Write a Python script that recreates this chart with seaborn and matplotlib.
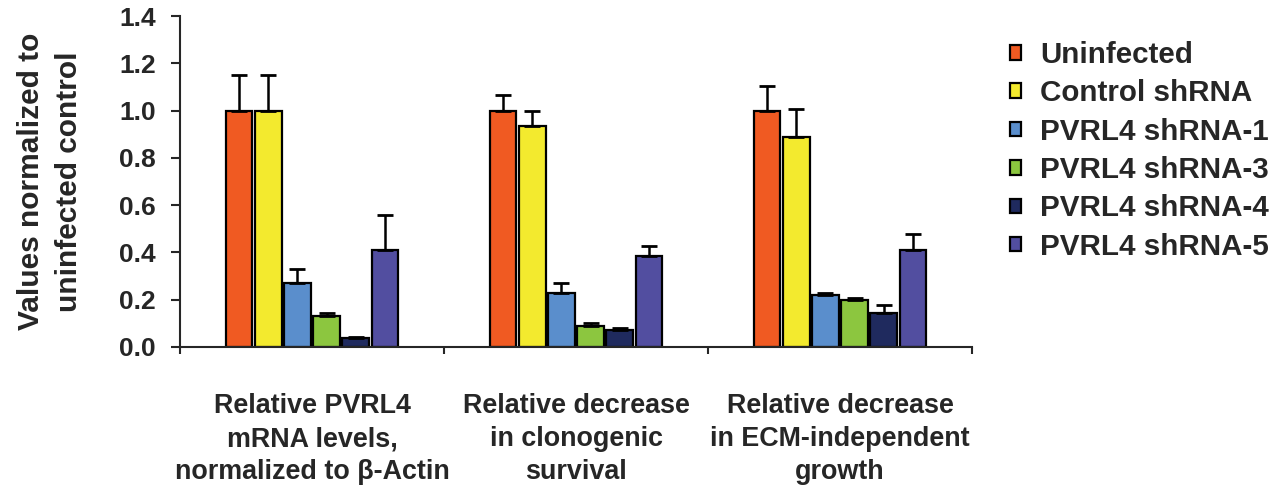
import numpy as np
import pandas as pd
import matplotlib
matplotlib.use("Agg")
import matplotlib.pyplot as plt
import seaborn as sns

# Dados
grupos = [
    "Relative PVRL4\nmRNA levels,\nnormalized to β-Actin",
    "Relative decrease\nin clonogenic\nsurvival",
    "Relative decrease\nin ECM-independent\ngrowth",
]
condicoes = ["Uninfected", "Control shRNA", "PVRL4 shRNA-1",
             "PVRL4 shRNA-3", "PVRL4 shRNA-4", "PVRL4 shRNA-5"]
cores = ["#F05A22", "#F3EA2E", "#5A8ECC", "#8CC63F", "#1F2A5E", "#524EA0"]

valores_mrna = [1.00, 1.00, 0.27, 0.13, 0.04, 0.41]
erros_mrna = [0.15, 0.15, 0.06, 0.012, 0.004, 0.15]
valores_clono = [1.00, 0.935, 0.23, 0.09, 0.07, 0.385]
erros_clono = [0.065, 0.065, 0.04, 0.01, 0.011, 0.042]
valores_ecm = [1.00, 0.89, 0.22, 0.20, 0.145, 0.41]
erros_ecm = [0.105, 0.115, 0.008, 0.007, 0.033, 0.067]

sns.set_style("ticks")
plt.rcParams['font.family'] = ['Liberation Sans', 'DejaVu Sans']
plt.rcParams['font.weight'] = 'bold'

linhas = []
for g, vals, errs in zip(grupos, [valores_mrna, valores_clono, valores_ecm],
                         [erros_mrna, erros_clono, erros_ecm]):
    for c, v, e in zip(condicoes, vals, errs):
        linhas.append({'grupo': g, 'condicao': c, 'valor': v, 'erro': e})
df = pd.DataFrame(linhas)

fig = plt.figure(figsize=(12.81, 4.91), dpi=100)
ax = fig.add_axes([180 / 1281, 1 - 347 / 491, (972 - 180) / 1281, (347 - 16) / 491])

sns.barplot(data=df, x='grupo', y='valor', hue='condicao', order=grupos,
            hue_order=condicoes, palette=cores, saturation=1, width=0.66, gap=0.1,
            edgecolor='black', linewidth=1.6, errorbar=None, ax=ax)

# barras de erro (só para cima)
for cont, cond in zip(ax.containers, condicoes):
    for patch, g in zip(cont.patches, grupos):
        linha = df[(df['grupo'] == g) & (df['condicao'] == cond)].iloc[0]
        xc = patch.get_x() + patch.get_width() / 2
        ax.errorbar(xc, linha['valor'], yerr=[[0], [linha['erro']]], fmt='none',
                    ecolor='black', elinewidth=1.8, capsize=5.5, capthick=2, zorder=3)

ax.set_ylim(0, 1.4)
ax.set_xlim(-0.5, 2.5)
ax.set_yticks(np.arange(0, 1.41, 0.2))
ax.set_yticklabels([f"{t:.1f}" for t in np.arange(0, 1.41, 0.2)])
ax.set_xticks([-0.5, 0.5, 1.5, 2.5], minor=True)
ax.tick_params(axis='x', which='major', length=0, pad=33, labelsize=19.4)
ax.tick_params(axis='x', which='minor', length=5, width=1.5, direction='out')
ax.tick_params(axis='y', length=6.5, width=1.5, direction='out', labelsize=19, pad=11)
for lbl in ax.get_xticklabels():
    lbl.set_linespacing(1.36)
    lbl.set_fontweight('bold')
for lbl in ax.get_yticklabels():
    lbl.set_fontweight('bold')

ax.set_xlabel('')
ax.set_ylabel('Values normalized to\nuninfected control', fontsize=21.5,
              fontweight='bold', labelpad=26, linespacing=1.45)
sns.despine(ax=ax)
for s in ['left', 'bottom']:
    ax.spines[s].set_linewidth(1.5)

ax.legend(loc='upper left', bbox_to_anchor=(1010 / 1281, 1 - 41 / 491),
          bbox_transform=fig.transFigure, frameon=False,
          prop={'weight': 'bold', 'size': 21.3}, handlelength=0.38,
          handleheight=0.38, handletextpad=0.64, labelspacing=0.35,
          borderaxespad=0, borderpad=0)

fig.savefig('out.png', dpi=100)
